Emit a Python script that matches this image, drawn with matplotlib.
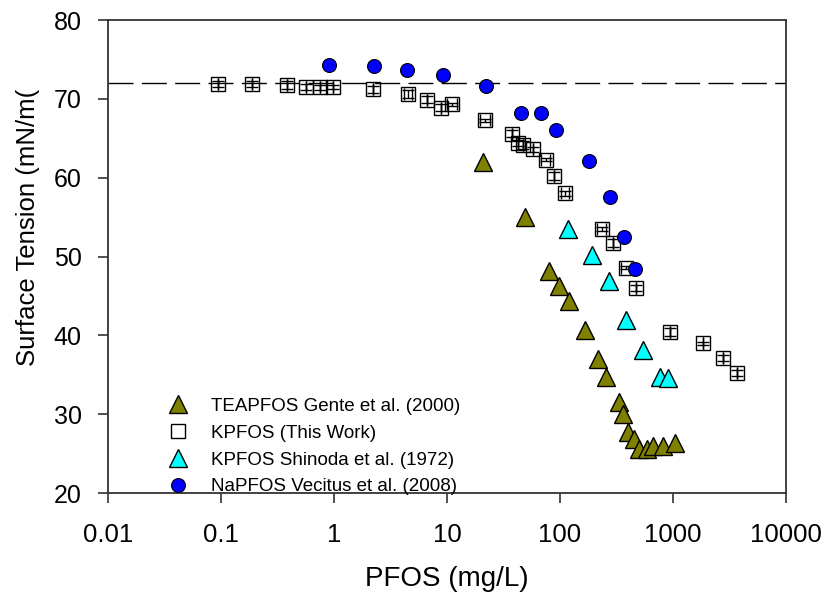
import matplotlib
matplotlib.use("Agg")
import matplotlib.pyplot as plt
import numpy as np

plt.rcParams['font.family'] = ['Liberation Sans', 'DejaVu Sans']

# TEAPFOS Gente et al. (2000)
tea_x = [21, 49.3, 80.4, 98.6, 121, 168, 215, 253, 330, 363, 402, 452, 503, 585, 661, 810, 1048]
tea_y = [62.0, 55.0, 48.1, 46.2, 44.3, 40.7, 37.0, 34.7, 31.6, 30.0, 27.8, 26.9, 25.6, 25.6, 26.0, 26.0, 26.4]

# KPFOS (This Work)
kp_x = [0.094, 0.19, 0.38, 0.57, 0.75, 0.97, 2.2, 4.5, 6.7, 8.85, 11.1, 21.7,
        37.4, 42.9, 47.3, 57.3, 74.7, 88.5, 111, 234, 293, 386, 471,
        935, 1843, 2750, 3660]
kp_y = [71.9, 71.9, 71.8, 71.5, 71.45, 71.5, 71.2, 70.6, 69.9, 68.9, 69.3, 67.3,
        65.6, 64.4, 64.1, 63.6, 62.3, 60.2, 58.0, 53.5, 51.7, 48.6, 46.0,
        40.4, 39.0, 37.1, 35.2]
kp_yerr = [0.4, 0.4, 0.5, 0.4, 0.3, 0.3, 0.4, 0.5, 0.4, 0.5, 0.2, 0.2,
           0.5, 0.4, 0.5, 0.3, 0.2, 0.5, 0.3, 0.2, 0.5, 0.2, 0.4,
           0.5, 0.2, 0.4, 0.4]
kp_xerr_frac = [0, 0, 0, 0, 0, 0, 0, 0.08, 0, 0, 0.1, 0.1,
                0, 0, 0, 0, 0.1, 0, 0.08, 0.1, 0, 0.1, 0,
                0, 0, 0, 0]

# KPFOS Shinoda et al. (1972)
shi_x = [117, 191, 270, 384, 539, 768, 910]
shi_y = [53.5, 50.2, 46.9, 41.9, 38.2, 34.7, 34.6]

# NaPFOS Vecitus et al. (2008)
na_x = [0.90, 2.26, 4.4, 9.2, 22.3, 45, 68, 92, 181, 276, 366, 459]
na_y = [74.3, 74.2, 73.7, 73.0, 71.6, 68.2, 68.2, 66.0, 62.1, 57.5, 52.5, 48.4]

water_st = 72.0

fig = plt.figure(figsize=(8.27, 5.96), dpi=100)
ax = fig.add_axes([0.1306, 0.1728, 0.8198, 0.7936])

ax.axhline(water_st, color='black', lw=1.0, dashes=(18, 6), zorder=1)

kp_xerr = np.array(kp_x) * np.array(kp_xerr_frac)
ax.errorbar(kp_x, kp_y, yerr=kp_yerr, fmt='none', ecolor='black', elinewidth=1.0,
            capsize=4.5, capthick=1.0, zorder=2)
ax.errorbar(kp_x, kp_y, xerr=kp_xerr, fmt='none', ecolor='black', elinewidth=0,
            capsize=4.5, capthick=1.0, zorder=2)

h_tea, = ax.plot(tea_x, tea_y, ls='none', marker='^', ms=12.5, mfc='#808000',
                 mec='black', mew=1.0, zorder=4)
h_kp, = ax.plot(kp_x, kp_y, ls='none', marker='s', ms=9.5, mfc='none',
                mec='black', mew=1.0, zorder=3)
h_shi, = ax.plot(shi_x, shi_y, ls='none', marker='^', ms=12.5, mfc='#00FFFF',
                 mec='black', mew=1.0, zorder=4)
h_na, = ax.plot(na_x, na_y, ls='none', marker='o', ms=10, mfc='#0000FF',
                mec='black', mew=0.8, zorder=5)

ax.set_xscale('log')
ax.set_xlim(0.01, 10000)
ax.set_ylim(20, 80)
ax.set_xticks([0.01, 0.1, 1, 10, 100, 1000, 10000])
ax.set_xticklabels(['0.01', '0.1', '1', '10', '100', '1000', '10000'])
ax.minorticks_off()
ax.set_yticks([20, 30, 40, 50, 60, 70, 80])

for s in ax.spines.values():
    s.set_linewidth(1.3)
    s.set_color('#333333')
ax.tick_params(axis='both', direction='out', length=7, width=1.2, color='#333333',
               top=False, right=False)
ax.tick_params(axis='x', pad=14.5, labelsize=18.5)
ax.tick_params(axis='y', pad=12, labelsize=18)

ax.set_xlabel('PFOS (mg/L)', fontsize=20, labelpad=14)
ax.set_ylabel('Surface Tension (mN/m(', fontsize=18.5)
ax.yaxis.set_label_coords(-0.10, 0.562)

ax.legend([h_tea, h_kp, h_shi, h_na],
          ['TEAPFOS Gente et al. (2000)', 'KPFOS (This Work)',
           'KPFOS Shinoda et al. (1972)', 'NaPFOS Vecitus et al. (2008)'],
          loc='lower left', bbox_to_anchor=(0.089, -0.005), frameon=False,
          fontsize=13.5, handlelength=1.0, handletextpad=1.25, labelspacing=0.52,
          borderpad=0, borderaxespad=0, markerscale=1.0)

fig.savefig('out.png', dpi=100)
